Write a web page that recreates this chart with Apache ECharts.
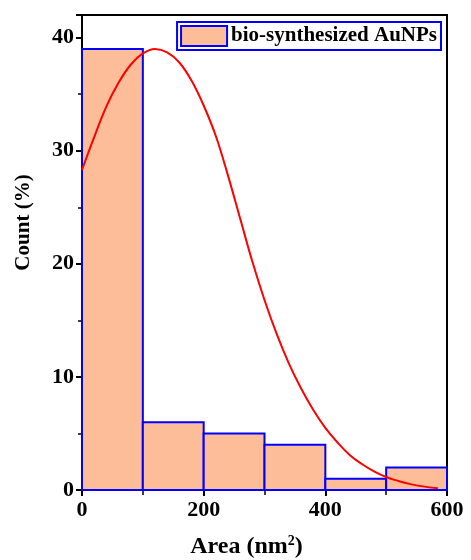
<!DOCTYPE html>
<html>
<head>
<meta charset="utf-8">
<script src="https://cdn.jsdelivr.net/npm/echarts@6/dist/echarts.min.js"></script>
<style>html,body{margin:0;padding:0;background:#fff}#c{width:471px;height:560px}</style>
</head>
<body>
<div id="c"></div>
<script>
// Histogram bins (nm^2) and counts (%)
const binStarts = [0, 100, 200, 300, 400, 500];
const binEnds   = [100, 200, 300, 400, 500, 600];
const counts    = [39, 6, 5, 4, 1, 2];
// Fitted curve
const fitX = [0, 20, 40, 60, 80, 100, 120, 140, 160, 180, 200, 220, 240, 260, 280, 300, 320, 340, 360, 380, 400, 420, 440, 460, 480, 500, 520, 540, 560, 585];
const fitY = [28.3, 31.2, 33.9, 36.0, 37.6, 38.6, 39.0, 38.7, 37.8, 36.2, 34.0, 31.3, 27.8, 24.0, 20.2, 16.8, 13.8, 11.2, 9.0, 7.1, 5.5, 4.2, 3.1, 2.3, 1.65, 1.15, 0.8, 0.52, 0.32, 0.15];
const xTicks = [0, 200, 400, 600];
const yTicks = [0, 10, 20, 30, 40];
const seriesName = 'bio-synthesized AuNPs';

const FONT = 'Liberation Serif';
const chart = echarts.init(document.getElementById('c'));
const binData = binStarts.map((s, i) => [s, binEnds[i], counts[i]]);
const fitData = fitX.map((x, i) => [x, fitY[i]]);

chart.setOption({
  animation: false,
  grid: { left: 82, right: 24, top: 15, bottom: 70, show: true, borderColor: '#000', borderWidth: 2, backgroundColor: 'transparent', outerBoundsMode: 'none', containLabel: false },
  legend: {
    data: [{ name: seriesName, icon: 'rect' }],
    right: 30, top: 22,
    itemWidth: 46, itemHeight: 20, itemGap: 6,
    padding: [3, 4, 3, 3],
    borderColor: '#0000ff', borderWidth: 2,
    textStyle: { fontFamily: FONT, fontWeight: 'bold', fontSize: 21, color: '#000', padding: [0, 0, 0, -1] }
  },
  xAxis: {
    type: 'value', min: 0, max: 600, interval: 200,
    name: '{t|Area (nm}{s|2}{t|)}', nameLocation: 'middle', nameGap: 44,
    nameTextStyle: { padding: [0, 36, 0, 0], rich: {
      t: { fontFamily: FONT, fontWeight: 'bold', fontSize: 24, color: '#000' },
      s: { fontFamily: FONT, fontWeight: 'bold', fontSize: 14, color: '#000', verticalAlign: 'top', padding: [0, 0, 12, 0] }
    } },
    axisLine: { show: true, lineStyle: { color: '#000', width: 2 } },
    axisTick: { show: true, length: 6, lineStyle: { color: '#000', width: 2 } },
    minorTick: { show: true, splitNumber: 2, length: 5, lineStyle: { color: '#000', width: 1.5 } },
    splitLine: { show: false },
    axisLabel: { fontFamily: FONT, fontWeight: 'bold', fontSize: 22, color: '#000', margin: 9,
      formatter: v => xTicks.includes(v) ? String(v) : '' }
  },
  yAxis: {
    type: 'value', min: 0, max: 42, interval: 10,
    name: 'Count (%)', nameLocation: 'middle', nameGap: 48,
    nameTextStyle: { fontFamily: FONT, fontWeight: 'bold', fontSize: 21, color: '#000', padding: [0, 0, 0, 60] },
    axisLine: { show: true, lineStyle: { color: '#000', width: 2 } },
    axisTick: { show: true, length: 6, lineStyle: { color: '#000', width: 2 } },
    minorTick: { show: true, splitNumber: 2, length: 4, lineStyle: { color: '#000', width: 1.5 } },
    splitLine: { show: false },
    axisLabel: { fontFamily: FONT, fontWeight: 'bold', fontSize: 22, color: '#000', margin: 8,
      formatter: v => yTicks.includes(v) ? String(v) : '' }
  },
  series: [
    {
      name: seriesName,
      type: 'custom',
      itemStyle: { color: '#fdbd99', borderColor: '#0000ff', borderWidth: 2 },
      encode: { x: [0, 1], y: 2 },
      data: binData,
      renderItem: function (params, api) {
        const p0 = api.coord([api.value(0), api.value(2)]);
        const p1 = api.coord([api.value(1), 0]);
        return {
          type: 'rect',
          shape: { x: p0[0], y: p0[1], width: p1[0] - p0[0], height: p1[1] - p0[1] },
          style: { fill: '#fdbd99', stroke: '#0000ff', lineWidth: 2 }
        };
      },
      z: 2
    },
    {
      name: 'fit',
      type: 'line',
      data: fitData,
      smooth: 0.4,
      showSymbol: false,
      lineStyle: { color: '#ff0000', width: 2 },
      itemStyle: { color: '#ff0000' },
      z: 3
    }
  ]
});
</script>
</body>
</html>
